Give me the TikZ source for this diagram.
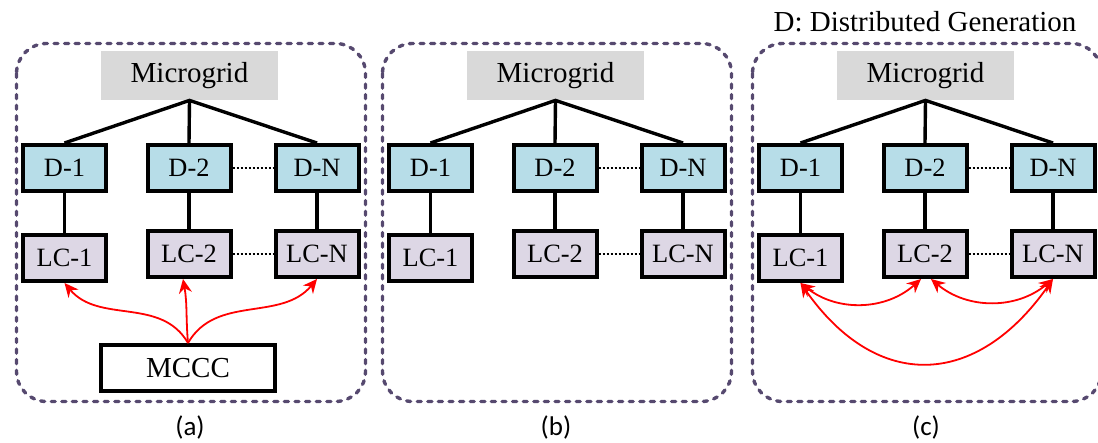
\documentclass[tikz,border=0pt]{standalone}
\usepackage{fontspec}
\setmainfont{Liberation Serif}
\newfontfamily\capfont{Carlito}
\usetikzlibrary{arrows.meta}
\definecolor{gridgray}{HTML}{D9D9D9}
\definecolor{dgblue}{HTML}{B7DDE8}
\definecolor{lclilac}{HTML}{DDD7E5}
\definecolor{framepurple}{HTML}{56496F}
\tikzset{
gridbox/.style={fill=gridgray, minimum width=88.5pt, minimum height=24.5pt,
	font=\fontsize{14.5}{17}\selectfont},
unitbox/.style={draw, line width=2pt, minimum width=41.5pt, minimum height=23pt,
	font=\fontsize{13.2}{15}\selectfont},
dgbox/.style={unitbox, fill=dgblue},
lcbox/.style={unitbox, fill=lclilac},
ccbox/.style={unitbox, fill=white, minimum width=87pt, font=\fontsize{14.5}{17}\selectfont},
panelframe/.style={draw=framepurple, line width=1.7pt, line cap=round,
	dash pattern=on 2pt off 3.3pt, rounded corners=15pt}
}

\begin{document}
\begin{tikzpicture}[x=0.5pt, y=-0.5pt,
	link/.style={line width=1.7pt},
	dotline/.style={line width=0.6pt, dash pattern=on 1pt off 1pt},
	sig/.style={red, line width=0.9pt, -{Stealth[length=7pt, width=6.5pt]}},
	sigboth/.style={sig, {Stealth[length=7pt, width=6.5pt]}-{Stealth[length=7pt, width=6.5pt]}},
	caption/.style={font=\capfont\fontsize{13.5}{16}\selectfont}]
	\useasboundingbox (0,0) rectangle (1098,443);
	\foreach \p/\dx in {a/0,b/366,c/736}{
		\begin{scope}[shift={(\dx,0)}]
			\draw[panelframe] (16.5,43.5) rectangle (365.5,401.5);
			\node[gridbox] (\p-mg) at (189.5,75.5) {Microgrid};
			\node[dgbox] (\p-d1) at (64.5,168) {D-1};
			\node[dgbox] (\p-d2) at (189,168) {D-2};
			\node[dgbox] (\p-dn) at (317,168) {D-N};
			\node[lcbox] (\p-lc1) at (64.5,258) {LC-1};
			\node[lcbox] (\p-lc2) at (189,254) {LC-2};
			\node[lcbox] (\p-lcn) at (317,254) {LC-N};
			\node[caption] (\p-cap) at (190,427) {(\p)};
			\draw[link] (\p-d1.north) -- (\p-mg.south) -- (\p-dn.north);
			\draw[link] (\p-mg.south) -- (\p-d2.north);
			\draw[link] (\p-d1) -- (\p-lc1);
			\draw[link] (\p-d2) -- (\p-lc2);
			\draw[link] (\p-dn) -- (\p-lcn);
			\draw[dotline] (\p-d2.east) -- (\p-dn.west);
			\draw[dotline] (\p-lc2.east) -- (\p-lcn.west);
		\end{scope}
	}
	% central controller
	\node[ccbox] (mccc) at (188,368) {MCCC};
	\draw[sig] (mccc.north) to[out=120, in=-50] (a-lc1.south);
	\draw[sig] (mccc.north) to[out=95, in=-80] ([xshift=-3pt]a-lc2.south);
	\draw[sig] (mccc.north) to[out=60, in=-130] (a-lcn.south);
	% peer links
	\draw[sigboth] (c-lc1.south) to[bend right=40] ([xshift=-2pt]c-lc2.south);
	\draw[sigboth] ([xshift=3pt]c-lc2.south) to[bend right=40] (c-lcn.south);
	\draw[sigboth] (c-lc1.south) to[out=-55, in=-125, looseness=1.35] (c-lcn.south);
	\node (legend) at (925,22) {\fontsize{14.5}{17}\selectfont D: Distributed Generation};
\end{tikzpicture}
\end{document}
